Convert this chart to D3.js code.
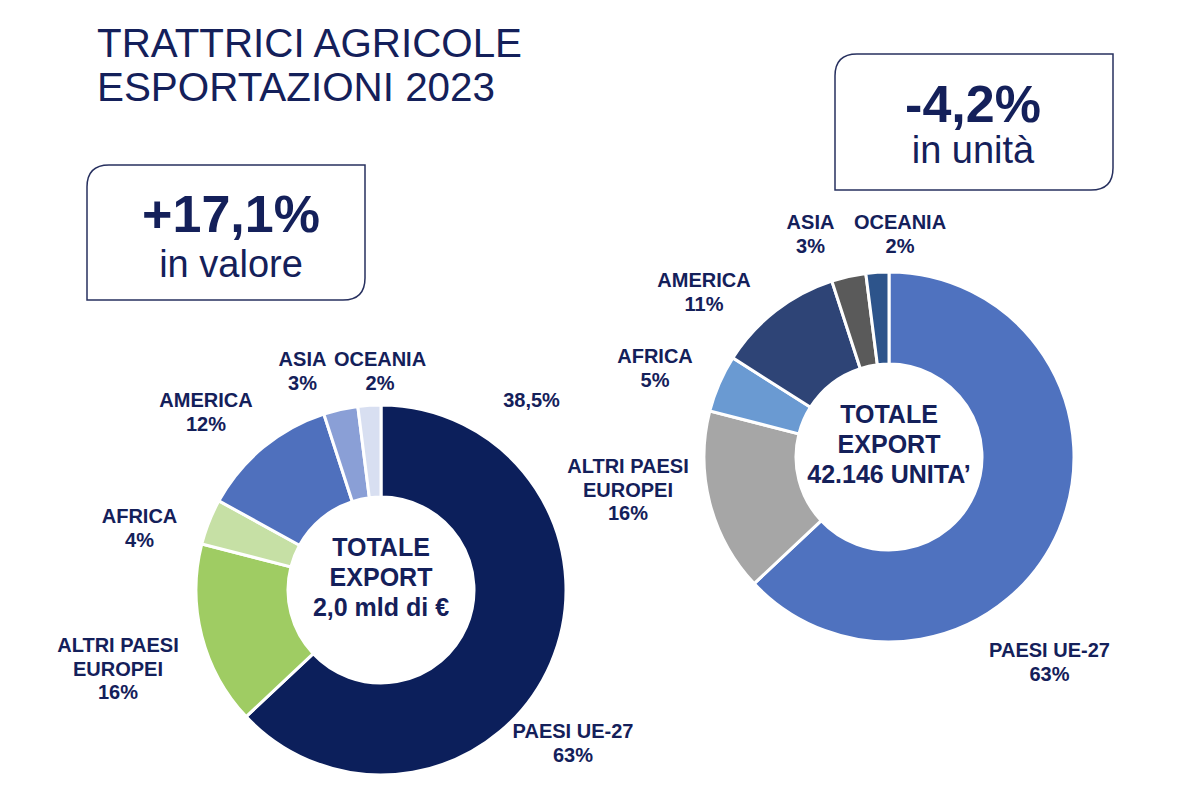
<!DOCTYPE html>
<html>
<head>
<meta charset="utf-8">
<script src="https://cdn.jsdelivr.net/npm/d3@7"></script>
<style>
  html, body { margin: 0; padding: 0; background: #ffffff; }
  svg { display: block; font-family: "Liberation Sans", Arial, sans-serif; }
</style>
</head>
<body>
<svg id="chart" width="1200" height="800"></svg>
<script>
// ---------------- DATA ----------------
const titleLines = ["TRATTRICI AGRICOLE", "ESPORTAZIONI 2023"];

const regions = ["PAESI UE-27", "ALTRI PAESI EUROPEI", "AFRICA", "AMERICA", "ASIA", "OCEANIA"];
const valueShares = [63, 16, 4, 12, 3, 2];   // left chart, % in valore
const unitShares  = [63, 16, 5, 11, 3, 2];   // right chart, % in unità

const valueColors = ["#0c1f5b", "#9fcc63", "#c6e0a5", "#4f70bd", "#8a9fd6", "#d8dff1"];
const unitColors  = ["#4f72bf", "#a6a6a6", "#6a9ad2", "#2e4476", "#5a5a5a", "#2d548b"];

const valueChange = ["+17,1%", "in valore"];
const unitChange  = ["-4,2%", "in unità"];
const valueCenter = ["TOTALE", "EXPORT", "2,0 mld di €"];
const unitCenter  = ["TOTALE", "EXPORT", "42.146 UNITA’"];
const strayLabel  = "38,5%";

// label text lines per region
const labelLines = [
  ["PAESI UE-27"], ["ALTRI PAESI", "EUROPEI"], ["AFRICA"], ["AMERICA"], ["ASIA"], ["OCEANIA"]
];

// ---------------- LAYOUT ----------------
const W = 1200, H = 800;
const ink = "#14205a";
const svg = d3.select("#chart");

// title
svg.append("g").selectAll("text").data(titleLines).join("text")
  .attr("x", 97).attr("y", (d, i) => 57 + i * 44)
  .attr("font-size", 40).attr("fill", ink)
  .attr("textLength", (d, i) => i === 0 ? 425 : 398)
  .attr("lengthAdjust", "spacingAndGlyphs")
  .text(d => d);

function box(x, y, w, h, r, lines, cx, y1, y2) {
  const p = `M${x + r},${y} H${x + w} V${y + h - r} Q${x + w},${y + h} ${x + w - r},${y + h} H${x} V${y + r} Q${x},${y} ${x + r},${y} Z`;
  svg.append("path").attr("d", p).attr("fill", "#fff")
    .attr("stroke", "#27305f").attr("stroke-width", 1.5);
  svg.append("text").attr("x", cx).attr("y", y1).attr("text-anchor", "middle")
    .attr("font-size", 52).attr("font-weight", "bold").attr("fill", ink).text(lines[0]);
  svg.append("text").attr("x", cx).attr("y", y2).attr("text-anchor", "middle")
    .attr("font-size", 38).attr("fill", ink).text(lines[1]);
}
box(87, 165, 278, 135, 22, valueChange, 231, 232, 277);
box(835, 54, 278, 136, 22, unitChange, 973, 122, 163);

// label positions [x, baseline y] of first line (layout only)
const valueLabelPos = [[573, 738], [118, 652], [139.5, 523], [206, 407], [302.5, 366], [380, 366]];
const unitLabelPos  = [[1049.5, 657], [628, 473], [655, 363], [704, 287], [810.5, 229], [900, 229]];

function donut(shares, colors, cx, cy, centerLines, labelPos) {
  const pie = d3.pie().sort(null).value(d => d)(shares);
  const arc = d3.arc().innerRadius(93).outerRadius(185);
  const g = svg.append("g").attr("transform", `translate(${cx},${cy})`);
  g.selectAll("path").data(pie).join("path")
    .attr("d", arc)
    .attr("fill", (d, i) => colors[i])
    .attr("stroke", "#fff").attr("stroke-width", 3).attr("stroke-linejoin", "miter");

  g.selectAll("text.center").data(centerLines).join("text")
    .attr("class", "center")
    .attr("x", 0).attr("y", (d, i) => -34 + i * 30)
    .attr("text-anchor", "middle").attr("font-size", 25).attr("font-weight", "bold")
    .attr("fill", ink).text(d => d);

  const lg = svg.append("g");
  regions.forEach((r, i) => {
    const lines = labelLines[i].concat([shares[i] + "%"]);
    const t = lg.append("text").attr("text-anchor", "middle")
      .attr("font-size", 20).attr("font-weight", "bold").attr("fill", ink);
    lines.forEach((ln, j) => {
      t.append("tspan").attr("x", labelPos[i][0]).attr("y", labelPos[i][1] + j * 23.5).text(ln);
    });
  });
}

donut(valueShares, valueColors, 381, 590, valueCenter, valueLabelPos);
donut(unitShares, unitColors, 889, 457, unitCenter, unitLabelPos);

svg.append("text").attr("x", 531.5).attr("y", 407).attr("text-anchor", "middle")
  .attr("font-size", 20).attr("font-weight", "bold").attr("fill", ink).text(strayLabel);
</script>
</body>
</html>
